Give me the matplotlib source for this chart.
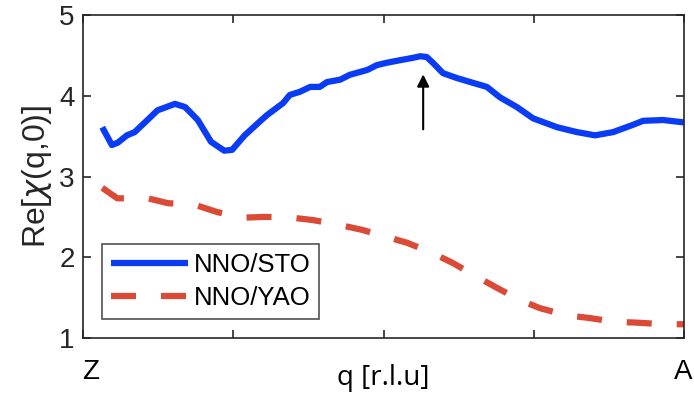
import matplotlib.pyplot as plt
import numpy as np

plt.rcParams['font.family'] = ['Liberation Sans', 'DejaVu Sans']

# NNO/STO (solid blue)
q_sto = [0.032, 0.048, 0.058, 0.073, 0.086, 0.103, 0.124, 0.153, 0.170, 0.191,
         0.213, 0.235, 0.248, 0.269, 0.291, 0.306, 0.333, 0.344, 0.361, 0.378,
         0.394, 0.406, 0.428, 0.444, 0.473, 0.489, 0.506, 0.527, 0.549, 0.561,
         0.572, 0.582, 0.599, 0.622, 0.649, 0.672, 0.694, 0.722, 0.749, 0.789,
         0.822, 0.852, 0.882, 0.915, 0.932, 0.965, 1.0]
re_sto = [3.61, 3.39, 3.42, 3.51, 3.55, 3.67, 3.82, 3.90, 3.86, 3.70,
          3.43, 3.32, 3.33, 3.51, 3.66, 3.76, 3.91, 4.01, 4.05, 4.11,
          4.11, 4.17, 4.20, 4.26, 4.32, 4.38, 4.41, 4.44, 4.47, 4.49,
          4.48, 4.41, 4.28, 4.22, 4.16, 4.11, 3.98, 3.86, 3.72, 3.61,
          3.55, 3.51, 3.55, 3.64, 3.69, 3.70, 3.67]

# NNO/YAO (dashed red)
q_yao = [0.032, 0.057, 0.108, 0.141, 0.186, 0.223, 0.266, 0.303, 0.348, 0.383,
         0.427, 0.464, 0.506, 0.539, 0.582, 0.615, 0.655, 0.689, 0.727, 0.760,
         0.805, 0.840, 0.885, 0.922, 0.965, 1.0]
re_yao = [2.86, 2.73, 2.73, 2.67, 2.65, 2.56, 2.49, 2.50, 2.49, 2.46,
          2.40, 2.34, 2.25, 2.18, 2.05, 1.93, 1.76, 1.62, 1.47, 1.37,
          1.28, 1.25, 1.20, 1.19, 1.17, 1.17]

arrow_q = 0.566
arrow_from = 3.55
arrow_to = 4.30

fig = plt.figure(figsize=(6.94, 3.96), dpi=100)
ax = fig.add_axes([0.1196, 0.1465, 0.866, 0.8155])

ax.plot(q_sto, re_sto, color='#0a3cf5', lw=4.5, solid_capstyle='butt', label='NNO/STO')
ax.plot(q_yao, re_yao, color='#db4a36', lw=4.5, dashes=(4, 4), label='NNO/YAO')

ax.annotate('', xy=(arrow_q, arrow_to), xytext=(arrow_q, arrow_from),
            arrowprops=dict(arrowstyle='-|>', color='black', lw=1.5, mutation_scale=18))

ax.set_xlim(0, 1)
ax.set_ylim(1, 5)
ax.set_yticks([1, 2, 3, 4, 5])
ax.set_xticks([0, 0.25, 0.5, 0.75, 1])
ax.set_xticklabels(['', '', '', '', ''])
ax.tick_params(direction='in', top=True, right=True, length=6, width=1.2,
               labelsize=20, colors='#262626', pad=6)
for s in ax.spines.values():
    s.set_linewidth(1.2)
    s.set_color('#262626')

ax.text(0.012, -0.065, 'Z', transform=ax.transAxes, ha='center', va='top', fontsize=20)
ax.text(0.998, -0.065, 'A', transform=ax.transAxes, ha='center', va='top', fontsize=20)
ax.set_xlabel('q [r.l.u]', fontsize=20, labelpad=13, family=['Open Sans', 'DejaVu Sans'])
ax.set_ylabel(r'Re[$\chi$(q,0)]', fontsize=23, labelpad=4, color='#262626')

leg = ax.legend(loc='lower left', bbox_to_anchor=(0.032, 0.06), fontsize=18.5, frameon=True,
                fancybox=False, edgecolor='#262626', handlelength=3.0, borderpad=0.35,
                labelspacing=0.35, handletextpad=0.2, borderaxespad=0)
leg.get_frame().set_linewidth(1.2)

fig.savefig('out.png', dpi=100)
